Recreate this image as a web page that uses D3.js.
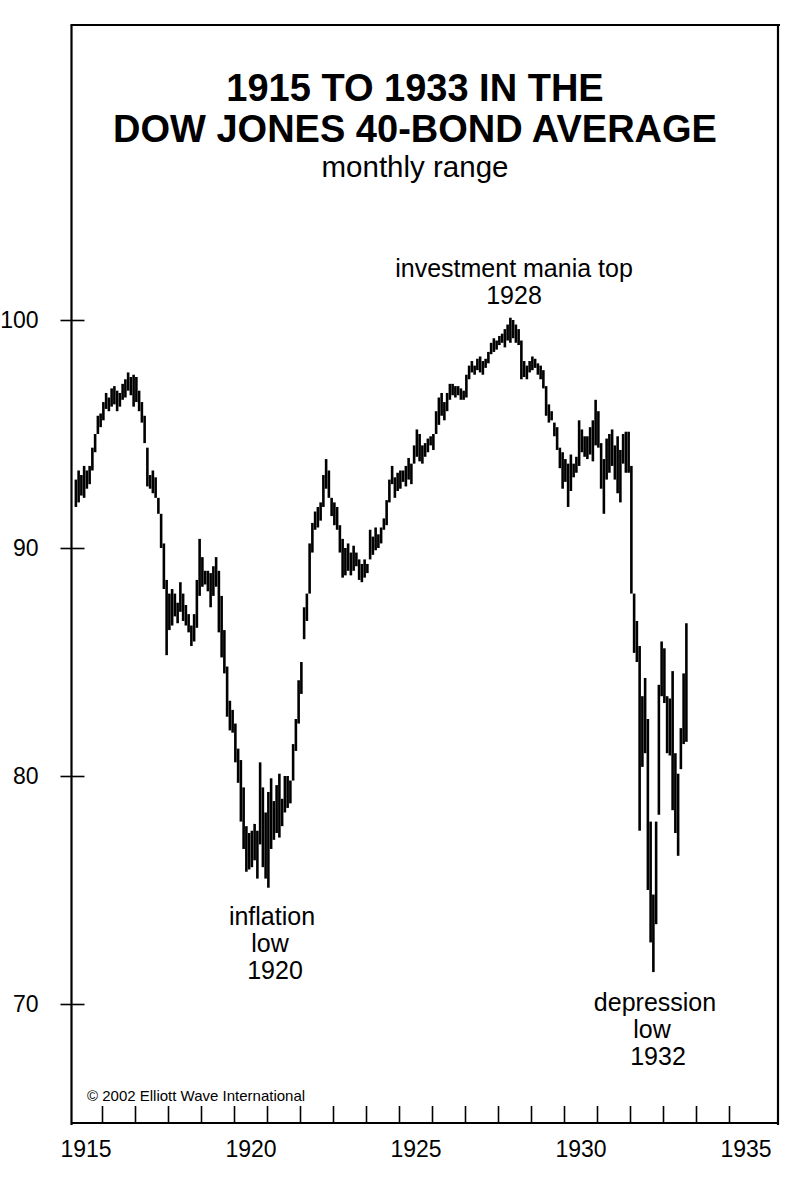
<!DOCTYPE html>
<html><head><meta charset="utf-8">
<script src="https://cdn.jsdelivr.net/npm/d3@7"></script>
<style>body{margin:0;background:#fff}svg{display:block}</style>
</head><body>
<svg id="chart" width="800" height="1188"></svg>
<script>
// ---- data: Dow Jones 40-Bond Average, monthly range (first bar = March 1915) ----
const startYear = 1915;
const startMonth = 2; // 0 = January
const highs = [
  93.0, 93.4, 93.2, 93.6, 93.4, 93.6, 94.4, 95.0, 95.8, 95.9,                 // 1915 Mar-Dec
  96.4, 96.8, 96.6, 97.0, 97.1, 96.9, 96.8, 97.2, 97.4, 97.7, 97.5, 97.6,     // 1916
  97.5, 96.9, 96.4, 95.8, 94.4, 93.2, 93.4, 93.1, 92.2, 91.5, 90.2, 88.6,     // 1917
  88.0, 88.2, 88.0, 87.6, 88.5, 88.0, 87.5, 87.1, 86.6, 87.1, 88.6, 90.4,     // 1918
  89.6, 89.0, 89.0, 88.9, 89.2, 89.6, 89.0, 87.9, 86.4, 84.8, 83.3, 82.9,     // 1919
  82.3, 81.2, 80.7, 79.5, 77.8, 77.5, 77.6, 77.9, 77.6, 80.6, 79.5, 78.4,     // 1920
  79.3, 79.9, 78.9, 79.6, 80.1, 79.0, 80.0, 80.0, 79.8, 81.4, 82.5, 84.2,     // 1921
  85.0, 87.4, 88.0, 90.2, 91.1, 91.6, 91.8, 92.0, 93.2, 93.9, 93.4, 92.2,     // 1922
  92.0, 91.8, 91.0, 90.4, 90.0, 90.2, 89.8, 90.1, 89.8, 89.5, 89.3, 89.5,     // 1923
  89.3, 90.8, 90.5, 90.9, 90.6, 90.9, 91.3, 92.1, 93.0, 93.6, 93.1, 93.3,     // 1924
  93.4, 93.4, 93.6, 93.95, 93.7, 94.5, 95.2, 95.0, 94.5, 94.6, 94.8, 94.9,    // 1925
  95.0, 96.0, 96.6, 96.8, 96.4, 96.8, 97.2, 97.2, 97.1, 97.1, 97.0, 96.9,     // 1926
  97.6, 98.0, 98.2, 98.0, 98.3, 98.4, 98.2, 98.3, 98.6, 99.0, 99.2, 99.1,     // 1927
  99.3, 99.4, 99.6, 99.8, 100.1, 100.0, 99.8, 99.6, 99.1, 98.2, 98.0, 98.2,   // 1928
  98.4, 98.3, 98.1, 98.0, 97.8, 97.1, 96.3, 96.0, 95.5, 95.3, 94.4, 94.2,     // 1929
  93.9, 93.7, 94.1, 93.7, 94.0, 95.6, 95.2, 94.9, 94.9, 95.3, 95.6, 96.5,     // 1930
  96.0, 94.6, 93.9, 94.8, 95.0, 95.2, 94.5, 94.9, 94.3, 95.0, 95.1, 95.1,     // 1931
  93.6, 88.0, 86.8, 85.7, 83.5, 84.3, 82.5, 78.0, 74.8, 78.0, 84.0, 85.9,     // 1932
  85.6, 83.5, 83.4, 84.6, 81.0, 80.1, 82.1, 84.5, 86.7                        // 1933
];
const lows = [
  91.8, 92.0, 92.3, 92.2, 92.6, 92.8, 93.4, 94.2, 95.0, 95.3,                 // 1915 Mar-Dec
  95.6, 96.1, 96.0, 96.2, 96.3, 96.0, 96.2, 96.5, 96.6, 96.9, 96.7, 96.2,     // 1916
  96.4, 96.0, 95.5, 94.6, 92.7, 92.6, 92.4, 92.2, 91.5, 90.0, 88.2, 85.3,     // 1917
  86.4, 86.6, 87.0, 86.7, 87.2, 86.8, 86.6, 86.3, 85.7, 85.9, 86.5, 87.9,     // 1918
  88.3, 88.4, 88.1, 87.4, 87.9, 88.3, 86.3, 85.2, 84.5, 82.6, 82.0, 81.9,     // 1919
  80.6, 79.7, 78.0, 76.8, 75.8, 75.9, 76.0, 76.3, 75.5, 77.0, 76.0, 75.5,     // 1920
  75.1, 76.8, 77.2, 77.5, 77.3, 77.8, 78.4, 78.6, 78.8, 79.8, 81.1, 82.3,     // 1921
  83.6, 86.0, 86.8, 88.0, 89.8, 90.8, 90.9, 91.2, 91.8, 92.6, 92.2, 91.4,     // 1922
  91.0, 90.8, 89.8, 88.7, 88.8, 89.0, 88.8, 89.0, 89.2, 88.6, 88.5, 88.7,     // 1923
  88.9, 89.5, 89.7, 89.9, 90.0, 90.2, 90.8, 91.0, 92.0, 92.8, 92.2, 92.5,     // 1924
  92.6, 92.9, 92.7, 93.0, 92.8, 93.7, 94.0, 93.8, 93.7, 94.0, 94.2, 94.5,     // 1925
  94.3, 95.0, 95.4, 95.8, 95.6, 96.0, 96.5, 96.7, 96.6, 96.7, 96.5, 96.5,     // 1926
  96.6, 97.4, 97.7, 97.6, 97.8, 97.7, 97.6, 97.9, 98.1, 98.5, 98.6, 98.7,     // 1927
  98.9, 99.0, 98.8, 99.1, 99.0, 99.2, 99.0, 98.9, 97.4, 97.5, 97.4, 97.7,     // 1928
  97.8, 97.9, 97.6, 97.4, 97.0, 95.8, 95.5, 95.6, 94.9, 94.3, 93.5, 92.6,     // 1929
  92.9, 91.8, 92.5, 93.1, 93.3, 93.6, 94.2, 94.0, 93.9, 94.1, 93.8, 94.5,     // 1930
  94.4, 92.6, 91.5, 93.0, 93.3, 93.6, 93.0, 92.4, 92.0, 93.7, 93.3, 93.3,     // 1931
  88.0, 85.4, 85.0, 77.6, 80.4, 81.0, 75.0, 72.7, 71.4, 73.5, 78.3, 83.5,     // 1932
  83.2, 81.0, 80.9, 78.5, 77.5, 76.5, 80.3, 81.4, 81.5                        // 1933
];
const yTickValues = [70, 80, 90, 100];
const xTickYears = [1916, 1917, 1918, 1919, 1920, 1921, 1922, 1923, 1924, 1925,
                    1926, 1927, 1928, 1929, 1930, 1931, 1932, 1933, 1934, 1935];
const xLabelYears = [1915, 1920, 1925, 1930, 1935];
const titleLines = ["1915 TO 1933 IN THE", "DOW JONES 40-BOND AVERAGE"];
const subtitle = "monthly range";
const annotations = [
  {lines: ["investment mania top", "1928"], cx: [514, 514], y: 277},
  {lines: ["inflation", "low", "1920"], cx: [272, 270, 275], y: 925},
  {lines: ["depression", "low", "1932"], cx: [655, 652, 658], y: 1011}
];
const copyright = "\u00A9 2002 Elliott Wave International";

// ---- drawing ----
const FONT = "'Liberation Sans', Arial, Helvetica, sans-serif";
const svg = d3.select("#chart");
svg.append("rect").attr("width", 800).attr("height", 1188).attr("fill", "#fff");

const frameL = 71.5, frameR = 778, frameT = 25, frameB = 1123;
const x = d3.scaleLinear().domain([1915, 1935]).range([69, 729]);
const y = d3.scaleLinear().domain([70, 100]).range([1004, 320]);

// frame
svg.append("line").attr("x1", frameL - 1).attr("x2", frameR + 2).attr("y1", frameT).attr("y2", frameT)
  .attr("stroke", "#000").attr("stroke-width", 2);
svg.append("line").attr("x1", frameR).attr("x2", frameR).attr("y1", frameT).attr("y2", frameB + 2)
  .attr("stroke", "#000").attr("stroke-width", 2.2);
svg.append("line").attr("x1", frameL).attr("x2", frameL).attr("y1", frameT).attr("y2", frameB + 2)
  .attr("stroke", "#000").attr("stroke-width", 2.2);
svg.append("line").attr("x1", frameL).attr("x2", frameR).attr("y1", frameB).attr("y2", frameB)
  .attr("stroke", "#000").attr("stroke-width", 2);

// y axis
const yAxis = d3.axisLeft(y).tickValues(yTickValues).tickSizeInner(11).tickSizeOuter(0).tickPadding(22);
const gy = svg.append("g").attr("transform", `translate(${frameL},0)`).call(yAxis);
gy.select(".domain").remove();
gy.selectAll(".tick line").attr("x1", 13).attr("stroke", "#000").attr("stroke-width", 1.6);
gy.selectAll(".tick text").attr("font-family", FONT).attr("font-size", 23).attr("fill", "#000");

// x axis ticks
const xAxis = d3.axisBottom(x).tickValues(xTickYears).tickSizeInner(-17).tickSizeOuter(0).tickFormat("");
const gx = svg.append("g").attr("transform", `translate(0,${frameB})`).call(xAxis);
gx.select(".domain").remove();
gx.selectAll(".tick line").attr("stroke", "#000").attr("stroke-width", 1.6);

// x labels centred in each year
const xLabAxis = d3.axisBottom(x).tickValues(xLabelYears.map(d => d + 0.5))
  .tickSize(0).tickPadding(18).tickFormat(d => String(Math.floor(d)));
const gxl = svg.append("g").attr("transform", `translate(0,${frameB})`).call(xLabAxis);
gxl.select(".domain").remove();
gxl.selectAll(".tick text").attr("font-family", FONT).attr("font-size", 23).attr("fill", "#000");

// monthly range bars
const bars = highs.map((h, i) => {
  const m = startMonth + i;
  return {t: startYear + (m + 0.5) / 12, hi: h, lo: lows[i]};
});
svg.append("g").selectAll("line").data(bars).join("line")
  .attr("x1", d => x(d.t)).attr("x2", d => x(d.t))
  .attr("y1", d => y(d.hi)).attr("y2", d => y(d.lo))
  .attr("stroke", "#000").attr("stroke-width", 2.6);

// titles
const tg = svg.append("g").attr("font-family", FONT).attr("text-anchor", "middle").attr("fill", "#000");
tg.append("text").attr("x", 415).attr("y", 101).attr("font-size", 38).attr("font-weight", "bold").text(titleLines[0]);
tg.append("text").attr("x", 415).attr("y", 142).attr("font-size", 38).attr("font-weight", "bold").text(titleLines[1]);
tg.append("text").attr("x", 415).attr("y", 177).attr("font-size", 29.5).text(subtitle);

// annotations
annotations.forEach(a => {
  a.lines.forEach((ln, j) => {
    tg.append("text").attr("x", a.cx[j]).attr("y", a.y + j * 27).attr("font-size", 25).text(ln);
  });
});

svg.append("text").attr("x", 87).attr("y", 1101).attr("font-family", FONT).attr("font-size", 15)
  .attr("fill", "#000").text(copyright);
</script>
</body></html>
